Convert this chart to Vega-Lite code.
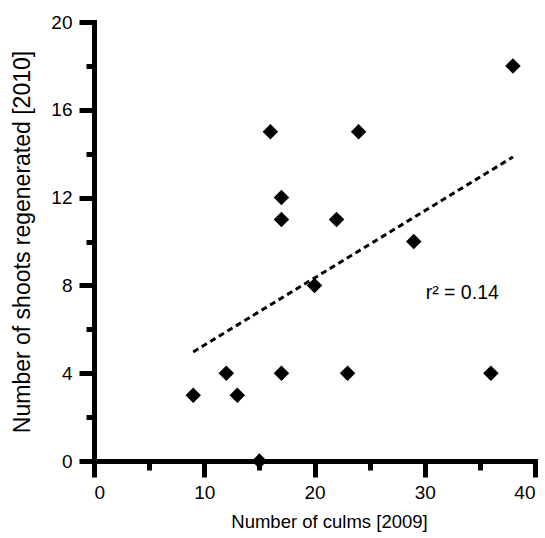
{
  "$schema": "https://vega.github.io/schema/vega-lite/v6.json",
  "autosize": {"type": "none"},
  "padding": {"left": 94, "top": 22, "right": 10, "bottom": 77},
  "width": 441,
  "height": 439,
  "config": {
    "view": {"stroke": null},
    "font": "Liberation Sans",
    "axis": {
      "domainWidth": 5,
      "domainColor": "#000000",
      "domainCap": "square",
      "tickWidth": 5,
      "tickColor": "#000000",
      "grid": false
    }
  },
  "datasets": {
    "pts": [
      {"culms": 9, "shoots": 3},
      {"culms": 12, "shoots": 4},
      {"culms": 13, "shoots": 3},
      {"culms": 15, "shoots": 0},
      {"culms": 16, "shoots": 15},
      {"culms": 17, "shoots": 12},
      {"culms": 17, "shoots": 11},
      {"culms": 17, "shoots": 4},
      {"culms": 20, "shoots": 8},
      {"culms": 22, "shoots": 11},
      {"culms": 23, "shoots": 4},
      {"culms": 24, "shoots": 15},
      {"culms": 29, "shoots": 10},
      {"culms": 36, "shoots": 4},
      {"culms": 38, "shoots": 18}
    ],
    "fit": [
      {"culms": 9, "shoots": 4.97},
      {"culms": 38, "shoots": 13.85}
    ],
    "note": [
      {"culms": 33.4, "shoots": 7.65, "label": "r² = 0.14"}
    ]
  },
  "resolve": {"axis": {"x": "independent", "y": "independent"}},
  "layer": [
    {
      "data": {"name": "fit"},
      "mark": {"type": "line", "color": "black", "strokeWidth": 3, "strokeDash": [6, 4]},
      "encoding": {
        "x": {
          "field": "culms", "type": "quantitative",
          "scale": {"domain": [0, 40], "nice": false, "zero": false},
          "axis": {
            "orient": "bottom",
            "title": "Number of culms [2009]",
            "values": [0, 10, 20, 30, 40],
            "tickSize": 16,
            "grid": false,
            "labelFont": "Liberation Sans",
            "labelFontSize": 19,
            "labelColor": "black",
            "labelPadding": 6,
            "titleFont": "Liberation Sans",
            "titleFontSize": 18.5,
            "titleFontWeight": "normal",
            "titleColor": "black",
            "titlePadding": 10,
            "titleX": 235
          }
        },
        "y": {
          "field": "shoots", "type": "quantitative",
          "scale": {"domain": [0, 20], "nice": false, "zero": false},
          "axis": {
            "orient": "left",
            "title": "Number of shoots regenerated [2010]",
            "values": [0, 4, 8, 12, 16, 20],
            "tickSize": 15,
            "grid": false,
            "labelFont": "Liberation Sans",
            "labelFontSize": 19,
            "labelColor": "black",
            "labelPadding": 7,
            "titleFont": "Liberation Sans",
            "titleFontSize": 23,
            "titleFontWeight": "normal",
            "titleColor": "black",
            "titlePadding": 16
          }
        }
      }
    },
    {
      "data": {"name": "pts"},
      "mark": {"type": "point", "shape": "diamond", "filled": true, "color": "black", "opacity": 1, "size": 240},
      "encoding": {
        "x": {
          "field": "culms", "type": "quantitative",
          "axis": {
            "orient": "bottom",
            "title": null,
            "values": [5, 15, 25, 35],
            "labels": false,
            "domain": false,
            "grid": false,
            "tickSize": 9
          }
        },
        "y": {
          "field": "shoots", "type": "quantitative",
          "axis": {
            "orient": "left",
            "title": null,
            "values": [2, 6, 10, 14, 18],
            "labels": false,
            "domain": false,
            "grid": false,
            "tickSize": 8
          }
        }
      }
    },
    {
      "data": {"name": "note"},
      "mark": {"type": "text", "fontSize": 19.5, "color": "black", "align": "center", "baseline": "middle", "font": "Liberation Sans"},
      "encoding": {
        "x": {"field": "culms", "type": "quantitative", "axis": null},
        "y": {"field": "shoots", "type": "quantitative", "axis": null},
        "text": {"field": "label"}
      }
    }
  ]
}
